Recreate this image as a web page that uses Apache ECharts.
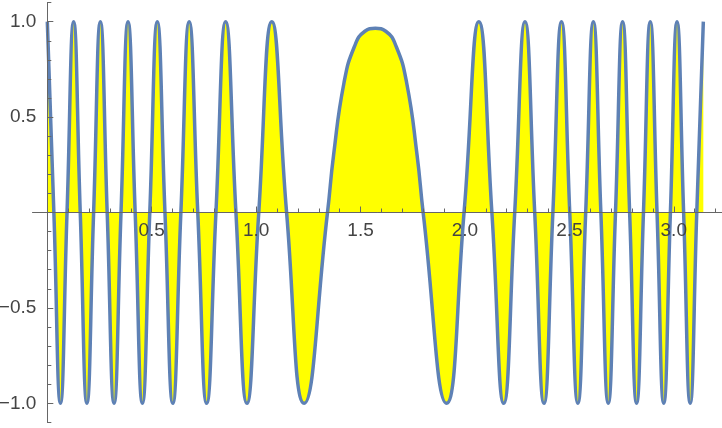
<!DOCTYPE html>
<html>
<head>
<meta charset="utf-8">
<script src="https://cdn.jsdelivr.net/npm/echarts@6/dist/echarts.min.js"></script>
<style>
html,body{margin:0;padding:0;background:#fff;}
#chart{width:722px;height:428px;}
</style>
</head>
<body>
<div id="chart"></div>
<script>
// x positions of extrema, zero crossings and hump points
var xValues = [
  0, 0.0314, 0.0629, 0.0944, 0.1260, 0.1577, 0.1896, 0.2217, 0.2541, 0.2867,
  0.3197, 0.3529, 0.3865, 0.4207, 0.4554, 0.4907, 0.5267, 0.5634, 0.6010, 0.6396,
  0.6794, 0.7205, 0.7631, 0.8075, 0.8541, 0.9033, 0.9559, 1.0126, 1.0751, 1.1459,
  1.2300, 1.3418, 1.3708, 1.4208, 1.4708, 1.5208, 1.5708, 1.6208, 1.6708, 1.7208, 1.7708,
  1.7998, 1.9116, 1.9957, 2.0665, 2.1290, 2.1857, 2.2383, 2.2875, 2.3341, 2.3785,
  2.4211, 2.4622, 2.5019, 2.5406, 2.5782, 2.6149, 2.6509, 2.6862, 2.7209, 2.7550,
  2.7887, 2.8219, 2.8549, 2.8875, 2.9199, 2.9520, 2.9839, 3.0156, 3.0472, 3.0787,
  3.1102, 3.1416
];
var yValues = [
  1, 0, -1, 0, 1, 0, -1, 0, 1, 0,
  -1, 0, 1, 0, -1, 0, 1, 0, -1, 0,
  1, 0, -1, 0, 1, 0, -1, 0, 1, 0,
  -1, 0, 0.30, 0.68, 0.87, 0.95, 0.965, 0.95, 0.87, 0.68, 0.30,
  0, -1, 0, 1, 0, -1, 0, 1, 0, -1,
  0, 1, 0, -1, 0, 1, 0, -1, 0, 1,
  0, -1, 0, 1, 0, -1, 0, 1, 0, -1,
  0, 1
];
var xMajorTicks = [0.5, 1.0, 1.5, 2.0, 2.5, 3.0];
var xMinorTicks = [0.1, 0.2, 0.3, 0.4, 0.6, 0.7, 0.8, 0.9, 1.1, 1.2, 1.3, 1.4, 1.6, 1.7, 1.8, 1.9,
                   2.1, 2.2, 2.3, 2.4, 2.6, 2.7, 2.8, 2.9, 3.1, 3.2];
var yMajorTicks = [-1.0, -0.5, 0.5, 1.0];
var yMinorTicks = [-1.1, -0.9, -0.8, -0.7, -0.6, -0.4, -0.3, -0.2, -0.1,
                   0.1, 0.2, 0.3, 0.4, 0.6, 0.7, 0.8, 0.9, 1.1];

var data = xValues.map(function (x, i) { return [x, yValues[i]]; });

var axisColor = '#666666';
var labelColor = '#444444';
var fontFamily = 'Liberation Sans, Arial, sans-serif';

var W = 722, H = 428;
var gridLeft = 32.7, gridRight = 0, gridTop = 2.6, gridBottom = 5.6;
var xMin = -0.07, xMax = 3.231, yMin = -1.1, yMax = 1.1;
// distance from grid edge to where the other axis value 0 falls
var xAxisOffset = -((H - gridTop - gridBottom) * (0 - yMin) / (yMax - yMin));
var yAxisOffset = -((W - gridLeft - gridRight) * (0 - xMin) / (xMax - xMin));

function fmt(v) {
  return (v < 0 ? '\u2212' : '') + Math.abs(v).toFixed(1);
}

var chart = echarts.init(document.getElementById('chart'), null, {renderer: 'canvas'});
chart.setOption({
  animation: false,
  backgroundColor: '#ffffff',
  grid: {left: gridLeft, right: gridRight, top: gridTop, bottom: gridBottom,
         containLabel: false, outerBoundsMode: 'none'},
  xAxis: [
    {
      type: 'value', min: xMin, max: xMax, position: 'bottom', offset: xAxisOffset, z: 10,
      axisLine: {show: true, onZero: false, lineStyle: {color: axisColor, width: 1}},
      axisTick: {show: true, inside: true, length: 6, customValues: xMajorTicks,
                 lineStyle: {color: axisColor, width: 1}},
      axisLabel: {show: true, customValues: xMajorTicks, formatter: fmt, fontSize: 19,
                  color: labelColor, margin: 9, fontFamily: fontFamily},
      splitLine: {show: false}
    },
    {
      type: 'value', min: xMin, max: xMax, position: 'top', z: 10,
      axisLine: {show: true, onZero: true, lineStyle: {color: axisColor, width: 1}},
      axisTick: {show: true, inside: false, length: 4, customValues: xMinorTicks,
                 lineStyle: {color: axisColor, width: 1}},
      axisLabel: {show: false},
      splitLine: {show: false}
    }
  ],
  yAxis: [
    {
      type: 'value', min: yMin, max: yMax, position: 'left', offset: yAxisOffset, z: 10,
      axisLine: {show: true, onZero: false, lineStyle: {color: axisColor, width: 1}},
      axisTick: {show: true, inside: true, length: 6, customValues: yMajorTicks,
                 lineStyle: {color: axisColor, width: 1}},
      axisLabel: {show: true, customValues: yMajorTicks, formatter: fmt, fontSize: 19,
                  color: labelColor, margin: 11, fontFamily: fontFamily},
      splitLine: {show: false}
    },
    {
      type: 'value', min: yMin, max: yMax, position: 'right', z: 10,
      axisLine: {show: true, onZero: true, lineStyle: {color: axisColor, width: 1}},
      axisTick: {show: true, inside: false, length: 4, customValues: yMinorTicks,
                 lineStyle: {color: axisColor, width: 1}},
      axisLabel: {show: false},
      splitLine: {show: false}
    }
  ],
  series: [{
    type: 'line',
    xAxisIndex: 0,
    yAxisIndex: 0,
    data: data,
    smooth: 0.5,
    showSymbol: false,
    symbol: 'none',
    lineStyle: {color: '#5E81B5', width: 3.5},
    areaStyle: {color: '#FFFF00', opacity: 1},
    z: 3
  }]
});
</script>
</body>
</html>
